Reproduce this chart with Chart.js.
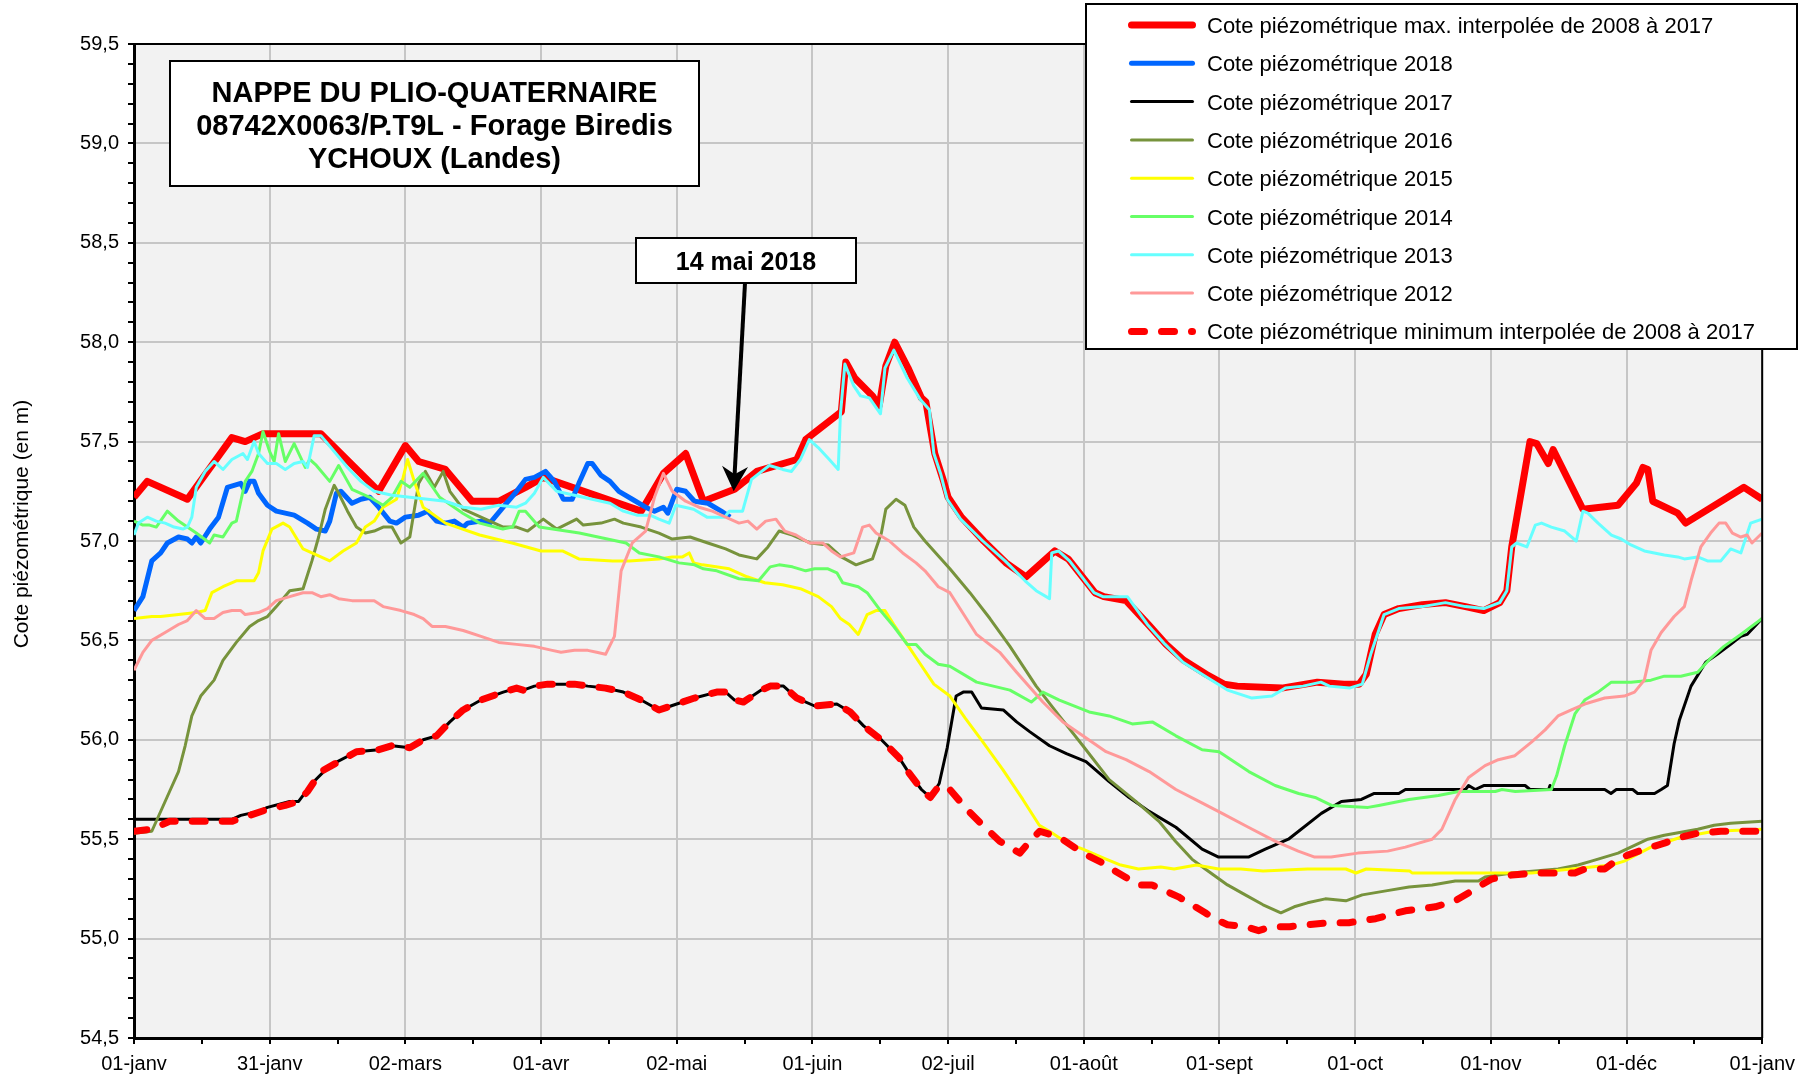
<!DOCTYPE html>
<html>
<head>
<meta charset="utf-8">
<script src="https://cdn.jsdelivr.net/npm/chart.js@4.4.1/dist/chart.umd.min.js"></script>
<style>
  html, body { margin: 0; padding: 0; background: #fff; }
  #wrap { width: 1803px; height: 1075px; }
</style>
</head>
<body>
<div id="wrap"><canvas id="chart" width="1803" height="1075"></canvas></div>
<script>
// x = day of year (0 = 01-janv, 366 = 01-janv next year), y = cote in m
const monthLabels = ['01-janv','31-janv','02-mars','01-avr','02-mai','01-juin','02-juil','01-août','01-sept','01-oct','01-nov','01-déc','01-janv'];
const xTickDays = [0,15.25,30.5,45.75,61,76.25,91.5,106.75,122,137.25,152.5,167.75,183,198.25,213.5,228.75,244,259.25,274.5,289.75,305,320.25,335.5,350.75,366];

const seriesLabels = [
  'Cote piézométrique max. interpolée de 2008 à 2017',
  'Cote piézométrique 2018',
  'Cote piézométrique 2017',
  'Cote piézométrique 2016',
  'Cote piézométrique 2015',
  'Cote piézométrique 2014',
  'Cote piézométrique 2013',
  'Cote piézométrique 2012',
  'Cote piézométrique minimum interpolée de 2008 à 2017'
];

const maxInterp = [[0,57.22],[3,57.30],[12,57.21],[22,57.52],[25,57.50],[29,57.54],[42,57.54],[55,57.25],[61,57.48],[64,57.40],[70,57.36],[76,57.20],[82,57.20],[88,57.27],[92,57.32],[114,57.15],[119,57.34],[124,57.44],[128,57.20],[135,57.26],[140,57.35],[149,57.41],[151,57.51],[159,57.65],[160,57.90],[162,57.82],[166,57.73],[167.5,57.68],[169,57.88],[171,58.00],[174,57.87],[177,57.72],[178,57.70],[180,57.44],[182,57.30],[183,57.22],[186,57.12],[191,57.00],[196,56.89],[200.5,56.82],[207,56.95],[210,56.91],[216,56.74],[218,56.72],[223,56.70],[228,56.58],[232,56.48],[236,56.40],[241,56.33],[245,56.28],[248,56.27],[258,56.26],[266,56.29],[272,56.28],[275.4,56.28],[277,56.33],[278,56.43],[279,56.53],[281,56.63],[284.3,56.66],[289.6,56.68],[294.8,56.69],[299.3,56.67],[303.4,56.65],[307,56.69],[308.6,56.75],[309.7,56.97],[313.8,57.50],[315.3,57.49],[317.9,57.39],[319,57.46],[325.7,57.16],[333.6,57.18],[337.7,57.29],[339.2,57.37],[340.3,57.36],[341.4,57.20],[347,57.14],[348.8,57.09],[361.9,57.27],[366,57.21]];

const y2018 = [[0,56.65],[2,56.72],[4,56.90],[6,56.94],[7.5,56.99],[10,57.02],[12,57.01],[13,56.99],[14,57.02],[15,56.99],[17,57.06],[19,57.12],[21,57.27],[24,57.29],[25,57.25],[26,57.30],[27,57.30],[28,57.24],[30,57.18],[32,57.15],[34,57.14],[36,57.13],[39,57.09],[41,57.06],[43,57.05],[44,57.10],[45.5,57.24],[46.5,57.25],[49,57.19],[51,57.21],[53,57.22],[55,57.17],[57.5,57.10],[59,57.09],[61,57.12],[64,57.13],[66,57.15],[68,57.10],[70,57.09],[72,57.10],[74,57.07],[75,57.09],[78,57.10],[80,57.09],[83,57.17],[86,57.25],[88,57.31],[90,57.32],[92.5,57.35],[94.5,57.30],[96.5,57.21],[98.5,57.21],[100,57.29],[102,57.39],[103,57.39],[105,57.33],[107,57.30],[109,57.25],[112,57.21],[115,57.17],[117,57.15],[119,57.17],[120,57.14],[122,57.26],[124,57.25],[126,57.20],[129,57.19],[132,57.15],[134,57.12]];

const y2017 = [[0,55.60],[22,55.60],[24,55.62],[28,55.64],[30,55.66],[35,55.69],[37,55.69],[40,55.78],[44,55.87],[50,55.94],[55,55.95],[58,55.97],[62,55.96],[65,56.00],[68,56.02],[71,56.09],[74,56.15],[78,56.20],[83,56.24],[86,56.26],[87.5,56.25],[90,56.27],[93,56.28],[99,56.28],[102,56.27],[106,56.26],[110,56.24],[114,56.20],[118,56.15],[122,56.18],[126,56.21],[131,56.24],[133,56.24],[135,56.20],[137,56.19],[141,56.25],[143,56.27],[146,56.27],[149,56.21],[153,56.17],[158,56.18],[161,56.14],[164,56.07],[168,56.00],[172,55.91],[174,55.84],[177,55.75],[179,55.71],[181,55.78],[182.8,55.96],[184.8,56.22],[186.4,56.24],[188.3,56.24],[190.5,56.16],[195.4,56.15],[198.4,56.09],[201.4,56.04],[205.8,55.97],[209.6,55.93],[214,55.89],[219.2,55.79],[223.7,55.71],[228.2,55.64],[234.2,55.56],[240.1,55.45],[243.8,55.41],[250.5,55.41],[254.3,55.45],[259.5,55.50],[266.9,55.63],[271.4,55.69],[275.9,55.70],[278.8,55.73],[284.3,55.73],[285.8,55.75],[299.3,55.75],[300,55.77],[301.5,55.75],[303.4,55.77],[312.7,55.77],[313.8,55.75],[318,55.75],[318.3,55.77],[319,55.75],[330.6,55.75],[332,55.73],[333.2,55.75],[336.9,55.75],[338,55.73],[341.8,55.73],[343.3,55.75],[344.7,55.77],[346.2,55.98],[347.4,56.10],[350,56.27],[353.3,56.39],[355.9,56.43],[358.9,56.48],[361.2,56.52],[362.6,56.53],[366,56.61]];

const y2016 = [[0,55.53],[4,55.54],[8,55.74],[10,55.84],[11.5,55.97],[13,56.12],[15,56.22],[18,56.30],[20,56.40],[23,56.49],[26,56.57],[28,56.60],[30,56.62],[32,56.67],[35,56.75],[38,56.76],[40,56.90],[41.5,57.02],[43,57.16],[45,57.28],[46,57.24],[48,57.15],[50,57.07],[52,57.04],[54,57.05],[56,57.07],[58,57.07],[60,56.99],[62,57.02],[64,57.29],[65.5,57.35],[67.5,57.27],[69.5,57.35],[71,57.25],[74,57.16],[78,57.12],[81,57.09],[83,57.07],[86,57.07],[88.5,57.05],[92,57.11],[95,57.06],[99.5,57.11],[101,57.08],[105,57.09],[108,57.11],[110,57.09],[114,57.07],[118,57.04],[121,57.01],[125,57.02],[129,56.99],[133,56.96],[136,56.93],[140,56.91],[142.5,56.97],[145,57.05],[148,57.03],[152,56.99],[156,56.98],[159,56.92],[162.3,56.88],[166,56.91],[168,57.04],[169,57.16],[171.3,57.21],[173.3,57.18],[175.3,57.07],[177.8,57.00],[183.4,56.86],[187.9,56.74],[192.4,56.61],[196.9,56.47],[202.8,56.27],[208,56.12],[213.3,55.97],[219.2,55.80],[225.2,55.69],[230.4,55.59],[234.1,55.49],[237.8,55.40],[240.8,55.35],[245.8,55.27],[249.8,55.22],[253.8,55.17],[257.8,55.13],[260.8,55.16],[263.8,55.18],[267.8,55.20],[272.4,55.19],[276.1,55.22],[281.4,55.24],[286.6,55.26],[291.8,55.27],[297,55.29],[302.2,55.29],[303.7,55.31],[309.7,55.33],[320.1,55.35],[324.6,55.37],[327.6,55.39],[333.6,55.43],[340.3,55.50],[344,55.52],[351.5,55.55],[355.2,55.57],[358.9,55.58],[366,55.59]];

const y2015 = [[0,56.61],[4,56.62],[6,56.62],[10,56.63],[14,56.64],[16,56.65],[17.5,56.74],[20,56.77],[23,56.80],[27,56.80],[28,56.84],[29,56.95],[31,57.06],[33.5,57.09],[35,57.07],[38,56.96],[41,56.93],[44,56.90],[47,56.95],[50,56.99],[52,57.07],[54,57.10],[56,57.17],[59,57.21],[60.5,57.32],[61.5,57.41],[63,57.30],[65,57.17],[70,57.09],[77.7,57.03],[85,56.99],[91.5,56.95],[96.3,56.95],[100,56.91],[107.6,56.90],[111.3,56.90],[118,56.91],[121,56.92],[123.3,56.92],[124.8,56.94],[125.8,56.89],[127.8,56.88],[130.8,56.87],[133.8,56.86],[137.8,56.82],[141.8,56.79],[145.8,56.78],[149.8,56.76],[153.8,56.72],[156.8,56.67],[158.8,56.61],[160.8,56.58],[162.8,56.53],[164.8,56.63],[166.8,56.65],[168.8,56.65],[170.8,56.58],[173.8,56.48],[176.8,56.38],[179.8,56.28],[183.4,56.22],[186.8,56.11],[190.8,55.99],[195.3,55.85],[199.8,55.70],[203.5,55.57],[205.8,55.54],[209.8,55.48],[213.3,55.45],[218.5,55.40],[221.8,55.37],[225.8,55.35],[230.8,55.36],[233.8,55.35],[238.8,55.37],[243.8,55.35],[248.8,55.35],[253.8,55.34],[263.8,55.35],[272.4,55.35],[274.7,55.33],[277,55.35],[286.8,55.34],[287.3,55.33],[314.2,55.33],[323.1,55.35],[332.1,55.37],[335,55.39],[341,55.46],[347.7,55.51],[355.2,55.54],[366,55.55]];

const y2014 = [[0,57.10],[2,57.08],[3.5,57.08],[5,57.07],[7.5,57.15],[10,57.10],[12,57.07],[14,57.04],[17,56.99],[18,57.03],[20,57.02],[22,57.09],[23,57.10],[25,57.30],[26.5,57.35],[28,57.44],[29,57.55],[30.5,57.45],[31.5,57.40],[32.5,57.54],[34,57.40],[36,57.49],[38.5,57.37],[39.5,57.41],[41,57.38],[44,57.30],[46,57.38],[47.5,57.32],[49,57.26],[53,57.22],[56,57.18],[58,57.22],[60,57.30],[62,57.27],[65,57.34],[68.7,57.22],[73.9,57.14],[77.7,57.09],[82.9,57.06],[85.1,57.07],[86.6,57.15],[88,57.15],[91.1,57.07],[100.1,57.04],[110.6,56.99],[113.6,56.94],[118,56.92],[122.5,56.89],[126,56.88],[128,56.86],[131,56.85],[136,56.81],[140.4,56.80],[143,56.87],[145,56.88],[148,56.87],[151,56.85],[153,56.86],[156,56.86],[158,56.84],[159.3,56.79],[162.8,56.77],[164.8,56.74],[167.8,56.65],[170.8,56.57],[173.8,56.48],[175.8,56.48],[177.8,56.43],[180.8,56.38],[183.4,56.37],[189.4,56.29],[196.9,56.25],[201.7,56.19],[204.3,56.24],[208,56.20],[214.7,56.14],[219.2,56.12],[224.4,56.08],[228.9,56.09],[234.2,56.02],[240.1,55.95],[243.9,55.94],[250.6,55.84],[256.5,55.77],[261.8,55.73],[265.5,55.71],[269.2,55.67],[277.4,55.66],[279.8,55.67],[286.6,55.70],[293.2,55.72],[297.8,55.74],[306,55.74],[307.5,55.75],[310.5,55.74],[318.6,55.75],[319.8,55.82],[321.6,55.97],[323.9,56.13],[326.1,56.20],[329.1,56.24],[332.1,56.29],[336.5,56.29],[341,56.30],[344,56.32],[347.7,56.32],[351.5,56.34],[354.4,56.41],[357.4,56.47],[361.2,56.53],[366,56.61]];

const y2013 = [[0,57.03],[1,57.09],[3,57.12],[5,57.10],[7,57.09],[9,57.07],[11,57.06],[12,57.07],[13,57.12],[14,57.27],[16,57.35],[18,57.40],[20,57.36],[22,57.41],[24.5,57.44],[25.5,57.41],[27,57.50],[28,57.44],[30,57.39],[32,57.39],[34,57.36],[36,57.39],[38,57.40],[39,57.37],[40.5,57.53],[42,57.53],[45,57.45],[48,57.37],[51,57.30],[54,57.25],[58,57.23],[62,57.22],[66,57.21],[70,57.20],[74,57.17],[78,57.16],[82,57.18],[86,57.17],[88,57.19],[90,57.24],[92,57.32],[95,57.25],[99,57.23],[103,57.21],[107,57.19],[110,57.15],[113,57.13],[116,57.13],[118,57.11],[120.3,57.09],[121.8,57.18],[125.8,57.16],[128.8,57.12],[132.8,57.12],[133.8,57.15],[136.8,57.15],[138.8,57.31],[142.8,57.38],[145.8,57.36],[147.8,57.35],[149.8,57.41],[151.8,57.51],[153.8,57.47],[156.3,57.41],[158.3,57.36],[158.8,57.64],[159.8,57.89],[161.8,57.78],[163.3,57.73],[165.3,57.72],[167.8,57.64],[168.8,57.87],[170.8,57.96],[173.8,57.82],[176.8,57.71],[178.8,57.66],[179.8,57.44],[181.3,57.34],[182.8,57.21],[185.8,57.11],[190.8,57.00],[195.8,56.90],[200.3,56.80],[202.8,56.75],[205.8,56.71],[206.3,56.94],[207.8,56.95],[210.3,56.90],[215.8,56.74],[217.8,56.72],[223.3,56.72],[227.8,56.58],[231.8,56.48],[235.8,56.39],[240.8,56.32],[245.8,56.25],[251.3,56.21],[255.8,56.22],[258.8,56.26],[262.8,56.27],[266.8,56.29],[268.7,56.27],[273.2,56.26],[276.1,56.28],[278,56.43],[281,56.63],[284.3,56.66],[289.6,56.67],[294.8,56.69],[299.3,56.67],[303.4,56.66],[307,56.69],[308.6,56.75],[309.7,56.97],[310.8,56.99],[313.1,56.97],[315,57.08],[316.4,57.09],[318.6,57.07],[321.6,57.05],[324.2,57.00],[325.7,57.15],[326.8,57.14],[329.1,57.09],[332.1,57.03],[334.3,57.01],[336.5,56.98],[339.5,56.95],[344,56.93],[347,56.92],[348.5,56.91],[351.5,56.92],[353.7,56.90],[356.7,56.90],[358.9,56.96],[361.2,56.94],[363.4,57.09],[366,57.11]];

const y2012 = [[0,56.35],[2,56.44],[4,56.50],[7,56.54],[10,56.58],[12,56.60],[14,56.65],[16,56.61],[18,56.61],[20,56.64],[22,56.65],[24,56.65],[25,56.63],[28,56.64],[30,56.66],[32,56.70],[35,56.72],[38,56.74],[40,56.74],[42,56.72],[44,56.73],[46,56.71],[49,56.70],[54,56.70],[56,56.67],[60,56.65],[63,56.63],[65,56.61],[67,56.57],[70,56.57],[74,56.55],[78,56.52],[82,56.49],[86,56.48],[90,56.47],[94,56.45],[96,56.44],[99,56.45],[102,56.45],[104,56.44],[106,56.43],[108,56.52],[109.5,56.85],[112,56.99],[115,57.05],[117,57.22],[119,57.34],[121,57.25],[124,57.20],[127,57.17],[130,57.15],[133,57.12],[136,57.09],[138,57.10],[140,57.06],[142,57.10],[144.3,57.11],[146.3,57.05],[148.8,57.03],[151.8,56.99],[154.8,56.99],[156.8,56.95],[158.8,56.92],[161.8,56.94],[163.8,57.07],[165.3,57.08],[166.8,57.04],[169.8,57.00],[172.8,56.94],[175.8,56.89],[177.8,56.85],[180.8,56.77],[183.4,56.74],[189.4,56.53],[194.6,56.44],[198.4,56.34],[204.3,56.19],[208.8,56.09],[213.3,56.02],[218.5,55.94],[223,55.90],[228.2,55.84],[234.2,55.75],[239.4,55.69],[244.6,55.63],[250.5,55.56],[256.5,55.49],[261.7,55.44],[265.4,55.41],[269.1,55.41],[275.1,55.43],[281.8,55.44],[285.8,55.46],[288.8,55.48],[291.8,55.50],[294,55.55],[297,55.70],[300,55.81],[303.7,55.87],[306.7,55.90],[310.4,55.92],[314.2,55.99],[317.2,56.05],[320.1,56.12],[323.1,56.15],[326.1,56.18],[330.6,56.21],[335,56.22],[337.3,56.24],[339.5,56.30],[341,56.45],[343.3,56.54],[346.2,56.62],[348.5,56.67],[350,56.80],[352.2,56.97],[354.4,57.04],[356.3,57.09],[357.8,57.09],[359.3,57.04],[361.2,57.02],[362.6,57.03],[363.7,56.99],[366,57.04]];

const minInterp = [[0,55.54],[4,55.55],[8,55.59],[14,55.59],[20,55.59],[22,55.59],[26,55.62],[30,55.65],[34,55.67],[37,55.69],[39,55.74],[42,55.84],[46,55.89],[50,55.94],[55,55.95],[58,55.97],[62,55.96],[65,56.00],[68,56.02],[71,56.09],[74,56.15],[78,56.20],[83,56.24],[86,56.26],[87.5,56.25],[90,56.27],[93,56.28],[99,56.28],[102,56.27],[106,56.26],[110,56.24],[114,56.20],[118,56.15],[122,56.18],[126,56.21],[131,56.24],[133,56.24],[135,56.20],[137,56.19],[141,56.25],[143,56.27],[146,56.27],[149,56.21],[153,56.17],[158,56.18],[161,56.14],[164,56.07],[168,56.00],[172,55.91],[174,55.84],[177,55.75],[179,55.71],[181,55.77],[183.4,55.75],[187.2,55.65],[190.8,55.57],[194.6,55.49],[199.1,55.43],[201.4,55.49],[203.6,55.54],[208,55.51],[213.3,55.43],[217.8,55.38],[219.8,55.35],[222.8,55.31],[225.8,55.27],[228.8,55.27],[231.8,55.24],[234.8,55.21],[237.8,55.17],[240.8,55.13],[242.8,55.10],[245.8,55.07],[249.8,55.06],[252.8,55.04],[255.8,55.06],[259.8,55.06],[263.8,55.07],[268.8,55.08],[273.1,55.08],[279.1,55.10],[285.8,55.14],[292.5,55.16],[297,55.19],[300,55.23],[302.9,55.27],[305.2,55.30],[309.7,55.32],[315.7,55.33],[321.6,55.33],[323.9,55.33],[326.1,55.35],[330.6,55.35],[333.6,55.40],[335.8,55.42],[339.5,55.45],[344,55.48],[347.7,55.51],[351.5,55.53],[356.7,55.54],[366,55.54]];

const FONT = "'Liberation Sans', Arial, sans-serif";
Chart.defaults.font.family = FONT;
Chart.defaults.color = '#000';

const series = [
  { pts: maxInterp, color: '#ff0000', width: 7 },
  { pts: y2018,     color: '#0066ff', width: 5 },
  { pts: y2017,     color: '#000000', width: 3 },
  { pts: y2016,     color: '#77933c', width: 3 },
  { pts: y2015,     color: '#ffff00', width: 3 },
  { pts: y2014,     color: '#66ff66', width: 3 },
  { pts: y2013,     color: '#66ffff', width: 3 },
  { pts: y2012,     color: '#ff9999', width: 3 },
  { pts: minInterp, color: '#ff0000', width: 7, dash: [13, 17] }
];

const isMajorY = v => Math.round(v * 10) % 5 === 0;

const decor = {
  id: 'decor',
  beforeDraw(chart) {
    const { ctx, chartArea: a } = chart;
    ctx.save();
    ctx.fillStyle = '#fff';
    ctx.fillRect(0, 0, chart.width, chart.height);
    ctx.fillStyle = '#f2f2f2';
    ctx.fillRect(a.left, a.top, a.right - a.left, a.bottom - a.top);
    ctx.restore();
  },
  afterDraw(chart) {
    const { ctx, chartArea: a, scales: { x, y } } = chart;
    ctx.save();

    // frame top / right
    ctx.strokeStyle = '#000';
    ctx.lineWidth = 2;
    ctx.beginPath();
    ctx.moveTo(a.left, a.top);
    ctx.lineTo(a.right, a.top);
    ctx.lineTo(a.right, a.bottom);
    ctx.stroke();

    // y axis title
    ctx.save();
    ctx.translate(22, 524);
    ctx.rotate(-Math.PI / 2);
    ctx.font = '21px ' + FONT;
    ctx.textAlign = 'center';
    ctx.textBaseline = 'middle';
    ctx.fillStyle = '#000';
    ctx.fillText('Cote piézométrique (en m)', 0, 0);
    ctx.restore();

    // title box
    ctx.fillStyle = '#fff';
    ctx.fillRect(170, 61, 529, 125);
    ctx.lineWidth = 2;
    ctx.strokeRect(170, 61, 529, 125);
    ctx.fillStyle = '#000';
    ctx.font = 'bold 29px ' + FONT;
    ctx.textAlign = 'center';
    ctx.textBaseline = 'alphabetic';
    ctx.fillText('NAPPE DU PLIO-QUATERNAIRE', 434.5, 102);
    ctx.fillText('08742X0063/P.T9L - Forage Biredis', 434.5, 135);
    ctx.fillText('YCHOUX (Landes)', 434.5, 168);

    // date annotation + arrow
    ctx.fillStyle = '#fff';
    ctx.fillRect(636, 238, 220, 45);
    ctx.strokeRect(636, 238, 220, 45);
    ctx.fillStyle = '#000';
    ctx.font = 'bold 25px ' + FONT;
    ctx.fillText('14 mai 2018', 746, 269.5);
    const tx = x.getPixelForValue(134.8), ty = y.getPixelForValue(57.25);
    const sx = 745, sy = 283;
    const ang = Math.atan2(ty - sy, tx - sx);
    const hl = 25, hw = 13;
    const bx = tx - Math.cos(ang) * hl, by = ty - Math.sin(ang) * hl;
    ctx.lineWidth = 4;
    ctx.beginPath();
    ctx.moveTo(sx, sy);
    ctx.lineTo(tx - Math.cos(ang) * 10, ty - Math.sin(ang) * 10);
    ctx.stroke();
    const px = -Math.sin(ang), py = Math.cos(ang);
    ctx.beginPath();
    ctx.moveTo(tx, ty);
    ctx.lineTo(bx + px * hw, by + py * hw);
    ctx.lineTo(tx - Math.cos(ang) * 17, ty - Math.sin(ang) * 17);
    ctx.lineTo(bx - px * hw, by - py * hw);
    ctx.closePath();
    ctx.fill();

    // legend
    ctx.fillStyle = '#fff';
    ctx.fillRect(1086, 4, 711, 345);
    ctx.lineWidth = 2;
    ctx.strokeStyle = '#000';
    ctx.strokeRect(1086, 4, 711, 345);
    ctx.font = '22px ' + FONT;
    ctx.textAlign = 'left';
    series.forEach((s, i) => {
      const cy = 25 + i * 38.3;
      ctx.save();
      ctx.strokeStyle = s.color;
      ctx.lineWidth = s.width;
      ctx.lineCap = 'round';
      ctx.setLineDash(s.dash || []);
      ctx.beginPath();
      ctx.moveTo(1131.5, cy);
      ctx.lineTo(1192.5, cy);
      ctx.stroke();
      ctx.restore();
      ctx.fillStyle = '#000';
      ctx.fillText(seriesLabels[i], 1207, cy + 8);
    });

    ctx.restore();
  }
};

new Chart(document.getElementById('chart'), {
  type: 'line',
  data: {
    datasets: series.map((s, i) => ({
      label: seriesLabels[i],
      data: s.pts.map(p => ({ x: p[0], y: p[1] })),
      borderColor: s.color,
      backgroundColor: s.color,
      borderWidth: s.width,
      borderDash: s.dash || [],
      borderCapStyle: s.dash ? 'round' : 'butt',
      borderJoinStyle: 'round',
      pointRadius: 0,
      tension: 0,
      fill: false,
      order: series.length - i
    }))
  },
  options: {
    responsive: false,
    animation: false,
    layout: { padding: { top: 44, right: 38, left: 0, bottom: 0 } },
    plugins: { legend: { display: false }, tooltip: { enabled: false } },
    scales: {
      x: {
        type: 'linear', min: 0, max: 366,
        afterBuildTicks: s => { s.ticks = xTickDays.map(v => ({ value: v })); },
        afterFit: s => { s.height = 37; },
        ticks: {
          autoSkip: false, maxRotation: 0, padding: 8,
          font: { size: 20 }, color: '#000',
          callback: (v, i) => (i % 2 === 0 ? monthLabels[i / 2] : '')
        },
        grid: {
          color: c => (c.index % 2 === 0 ? '#c6c6c6' : 'rgba(0,0,0,0)'),
          lineWidth: 2, tickLength: 6, tickColor: '#000', tickWidth: 2
        },
        border: { color: '#000', width: 3 }
      },
      y: {
        min: 54.5, max: 59.5,
        afterFit: s => { s.width = 134; },
        ticks: {
          stepSize: 0.1, autoSkip: false, padding: 9,
          font: { size: 20 }, color: '#000',
          callback: v => (isMajorY(v) ? v.toFixed(1).replace('.', ',') : '')
        },
        grid: {
          color: c => (isMajorY(c.tick.value) ? '#c6c6c6' : 'rgba(0,0,0,0)'),
          lineWidth: 2, tickLength: 6, tickColor: '#000', tickWidth: 2
        },
        border: { color: '#000', width: 3 }
      }
    }
  },
  plugins: [decor]
});
</script>
</body>
</html>
